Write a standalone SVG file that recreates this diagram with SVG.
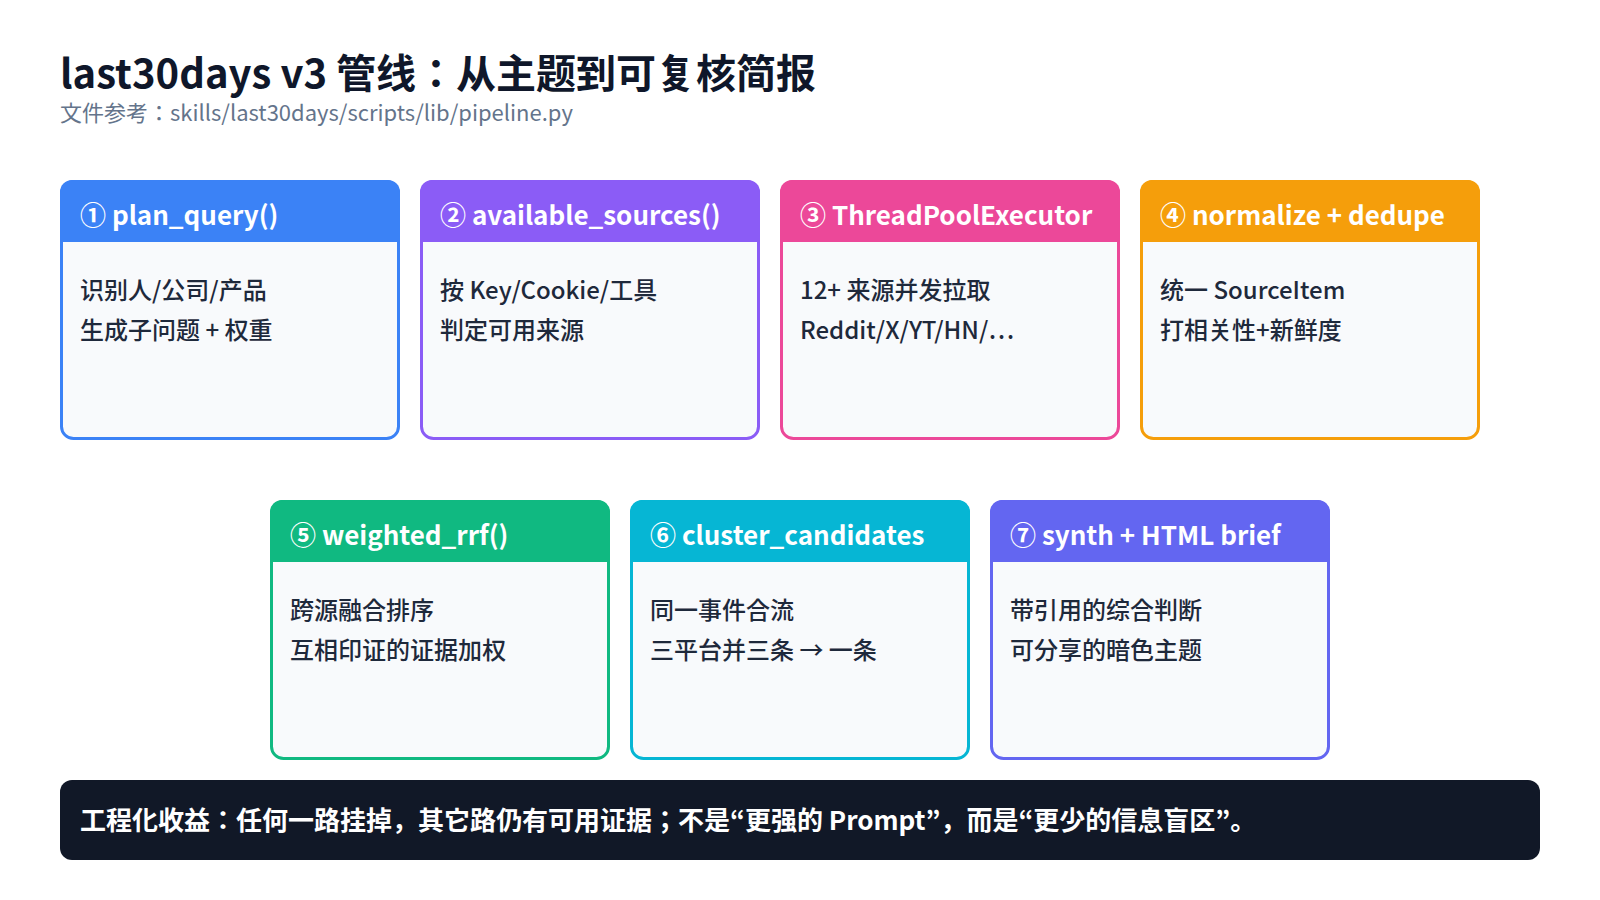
<svg xmlns="http://www.w3.org/2000/svg" width="1600" height="900" viewBox="0 0 1600 900">
<style>
text{font-family:"Noto Sans CJK JP","Noto Sans CJK SC","Noto Sans",sans-serif}
.title{font-size:40px;font-weight:700;fill:#0f172a}
.sub{font-size:22px;fill:#64748b}
.card{fill:#f8fafc;stroke-width:3}
.hd{font-size:26px;font-weight:700;fill:#ffffff}
.bd{font-size:24px;font-weight:500;fill:#1e293b}
.foot{font-size:26px;font-weight:700;fill:#ffffff}
</style>
<rect width="1600" height="900" fill="#ffffff"/>
<text class="title" x="60" y="88">last30days v3 管线：从主题到可复核简报</text>
<text class="sub" x="60" y="121">文件参考：skills/last30days/scripts/lib/pipeline.py</text>

<g id="n1">
<rect class="card" x="61.5" y="181.5" width="337" height="257" rx="12" stroke="#3b82f6"/>
<path d="M60 242 V192 a12 12 0 0 1 12 -12 H388 a12 12 0 0 1 12 12 V242 Z" fill="#3b82f6"/>
<text class="hd" x="80" y="225">① plan_query()</text>
<text class="bd" x="80" y="299">识别人/公司/产品</text>
<text class="bd" x="80" y="339">生成子问题 + 权重</text>
</g>
<g id="n2">
<rect class="card" x="421.5" y="181.5" width="337" height="257" rx="12" stroke="#8b5cf6"/>
<path d="M420 242 V192 a12 12 0 0 1 12 -12 H748 a12 12 0 0 1 12 12 V242 Z" fill="#8b5cf6"/>
<text class="hd" x="440" y="225">② available_sources()</text>
<text class="bd" x="440" y="299">按 Key/Cookie/工具</text>
<text class="bd" x="440" y="339">判定可用来源</text>
</g>
<g id="n3">
<rect class="card" x="781.5" y="181.5" width="337" height="257" rx="12" stroke="#ec4899"/>
<path d="M780 242 V192 a12 12 0 0 1 12 -12 H1108 a12 12 0 0 1 12 12 V242 Z" fill="#ec4899"/>
<text class="hd" x="800" y="225">③ ThreadPoolExecutor</text>
<text class="bd" x="800" y="299">12+ 来源并发拉取</text>
<text class="bd" x="800" y="339">Reddit/X/YT/HN/…</text>
</g>
<g id="n4">
<rect class="card" x="1141.5" y="181.5" width="337" height="257" rx="12" stroke="#f59e0b"/>
<path d="M1140 242 V192 a12 12 0 0 1 12 -12 H1468 a12 12 0 0 1 12 12 V242 Z" fill="#f59e0b"/>
<text class="hd" x="1160" y="225">④ normalize + dedupe</text>
<text class="bd" x="1160" y="299">统一 SourceItem</text>
<text class="bd" x="1160" y="339">打相关性+新鲜度</text>
</g>
<g id="n5">
<rect class="card" x="271.5" y="501.5" width="337" height="257" rx="12" stroke="#10b981"/>
<path d="M270 562 V512 a12 12 0 0 1 12 -12 H598 a12 12 0 0 1 12 12 V562 Z" fill="#10b981"/>
<text class="hd" x="290" y="545">⑤ weighted_rrf()</text>
<text class="bd" x="290" y="619">跨源融合排序</text>
<text class="bd" x="290" y="659">互相印证的证据加权</text>
</g>
<g id="n6">
<rect class="card" x="631.5" y="501.5" width="337" height="257" rx="12" stroke="#06b6d4"/>
<path d="M630 562 V512 a12 12 0 0 1 12 -12 H958 a12 12 0 0 1 12 12 V562 Z" fill="#06b6d4"/>
<text class="hd" x="650" y="545">⑥ cluster_candidates</text>
<text class="bd" x="650" y="619">同一事件合流</text>
<text class="bd" x="650" y="659">三平台并三条 → 一条</text>
</g>
<g id="n7">
<rect class="card" x="991.5" y="501.5" width="337" height="257" rx="12" stroke="#6366f1"/>
<path d="M990 562 V512 a12 12 0 0 1 12 -12 H1318 a12 12 0 0 1 12 12 V562 Z" fill="#6366f1"/>
<text class="hd" x="1010" y="545">⑦ synth + HTML brief</text>
<text class="bd" x="1010" y="619">带引用的综合判断</text>
<text class="bd" x="1010" y="659">可分享的暗色主题</text>
</g>
<g id="connectors"></g>
<g id="footer">
<rect x="60" y="780" width="1480" height="80" rx="12" fill="#111827"/>
<text class="foot" x="80" y="830">工程化收益：任何一路挂掉，其它路仍有可用证据；不是“更强的 Prompt”，而是“更少的信息盲区”。</text>
</g>
</svg>
